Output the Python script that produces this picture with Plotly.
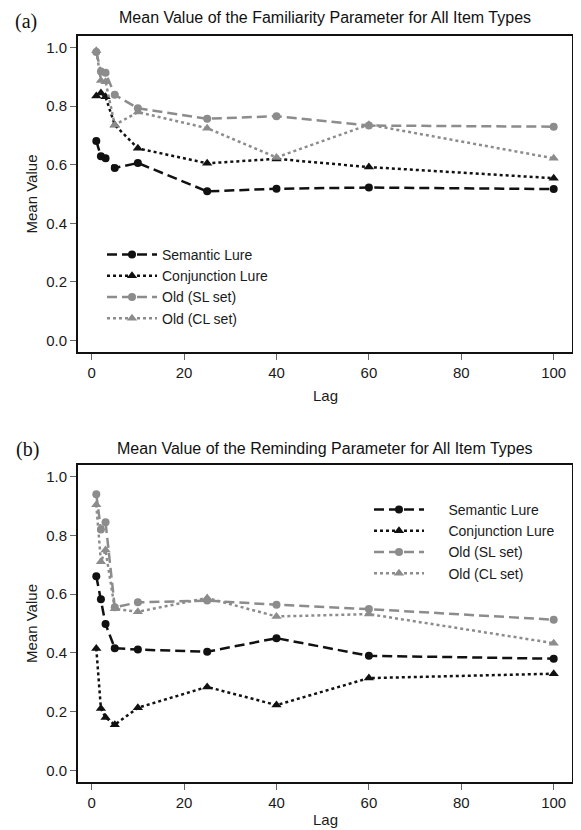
import plotly.graph_objects as go

lags = [1, 2, 3, 5, 10, 25, 40, 60, 100]

series_names = ["Semantic Lure", "Conjunction Lure", "Old (SL set)", "Old (CL set)"]

# Panel (a): familiarity parameter
fam_semantic = [0.681, 0.629, 0.622, 0.589, 0.606, 0.509, 0.518, 0.522, 0.517]
fam_conjunction = [0.835, 0.845, 0.832, 0.736, 0.656, 0.605, 0.620, 0.592, 0.554]
fam_old_sl = [0.985, 0.919, 0.914, 0.839, 0.793, 0.757, 0.766, 0.734, 0.730]
fam_old_cl = [0.990, 0.888, 0.884, 0.736, 0.780, 0.725, 0.625, 0.737, 0.622]

# Panel (b): reminding parameter
rem_semantic = [0.661, 0.583, 0.498, 0.416, 0.411, 0.404, 0.450, 0.390, 0.380]
rem_conjunction = [0.415, 0.210, 0.180, 0.155, 0.213, 0.284, 0.222, 0.314, 0.329]
rem_old_sl = [0.940, 0.820, 0.845, 0.555, 0.572, 0.578, 0.564, 0.549, 0.513]
rem_old_cl = [0.905, 0.710, 0.750, 0.550, 0.540, 0.587, 0.524, 0.532, 0.433]

x_ticks = [0, 20, 40, 60, 80, 100]
y_ticks = [0.0, 0.2, 0.4, 0.6, 0.8, 1.0]
y_tick_labels = ["0.0", "0.2", "0.4", "0.6", "0.8", "1.0"]

title_a = "Mean Value of the Familiarity Parameter for All Item Types"
title_b = "Mean Value of the Reminding Parameter for All Item Types"
x_title = "Lag"
y_title = "Mean Value"

BLACK = "#111111"
GRAY = "#8c8c8c"
DASH = "10px,5px"
DOT = "3px,3px"
styles = [
    dict(color=BLACK, dash=DASH, symbol="circle"),
    dict(color=BLACK, dash=DOT, symbol="triangle-up"),
    dict(color=GRAY, dash=DASH, symbol="circle"),
    dict(color=GRAY, dash=DOT, symbol="triangle-up"),
]

FONT = "Liberation Sans, Arial, Helvetica, sans-serif"
SERIF = "Liberation Serif, Times New Roman, serif"
TXT = "#1a1a1a"
NBSP = "\u00a0"

fig = go.Figure()

panels = [
    ([fam_semantic, fam_conjunction, fam_old_sl, fam_old_cl], "x", "y", "legend", ""),
    ([rem_semantic, rem_conjunction, rem_old_sl, rem_old_cl], "x2", "y2", "legend2", NBSP * 5),
]
for values, xa, ya, lg, pad in panels:
    for name, vals, st in zip(series_names, values, styles):
        fig.add_trace(go.Scatter(
            x=lags, y=vals, name=pad + name, mode="lines+markers",
            xaxis=xa, yaxis=ya, legend=lg,
            line=dict(color=st["color"], dash=st["dash"], width=2.5),
            marker=dict(symbol=st["symbol"], color=st["color"],
                        size=8 if st["symbol"] == "circle" else 9),
        ))

W, H = 581, 830
OFF = 8  # page body margin offset
xdom = [(78 - OFF) / W, (572 - OFF) / W]
ydom_a = [1 - (352 - OFF) / H, 1 - (36 - OFF) / H]
ydom_b = [1 - (782 - OFF) / H, 1 - (465 - OFF) / H]

axis_common = dict(
    showgrid=False, zeroline=False, showline=True, mirror=True,
    linecolor="#111111", linewidth=2, ticks="outside", ticklen=6,
    tickwidth=1, tickcolor="#666666",
    tickfont=dict(family=FONT, size=15, color=TXT),
)
xaxis_common = dict(axis_common, range=[-2.96, 103.96], tickvals=x_ticks)
yaxis_common = dict(axis_common, range=[-0.04, 1.04], tickvals=y_ticks, ticktext=y_tick_labels,
                    title=dict(text=y_title, font=dict(family=FONT, size=15, color=TXT), standoff=5))

legend_common = dict(
    font=dict(family=FONT, size=14, color=TXT),
    bgcolor="rgba(0,0,0,0)", borderwidth=0, itemwidth=50,
    tracegroupgap=0, xanchor="left", yanchor="top",
)


def ann(text, x, y, font, yanchor="middle"):
    return dict(text=text, x=(x - OFF) / W, y=1 - (y - OFF) / H, xref="paper", yref="paper",
                showarrow=False, font=font, xanchor="center", yanchor=yanchor,
                borderpad=0)


title_font = dict(family=FONT, size=16, color="#111111")
label_font = dict(family=FONT, size=15, color=TXT)
panel_font = dict(family=SERIF, size=20, color="#111111")

fig.update_layout(
    width=W, height=H,
    margin=dict(l=0, r=0, t=0, b=0),
    paper_bgcolor="white", plot_bgcolor="white",
    showlegend=True,
    xaxis=dict(xaxis_common, domain=xdom, anchor="y"),
    yaxis=dict(yaxis_common, domain=ydom_a, anchor="x"),
    xaxis2=dict(xaxis_common, domain=xdom, anchor="y2"),
    yaxis2=dict(yaxis_common, domain=ydom_b, anchor="x2"),
    legend=dict(legend_common, x=94 / W, y=1 - 231 / H),
    legend2=dict(legend_common, x=361 / W, y=1 - 486 / H),
    annotations=[
        ann(title_a, 325, 17, title_font),
        ann(title_b, 325, 448, title_font),
        ann("(a)", 26, 9, panel_font, yanchor="top"),
        ann("(b)", 27, 449, panel_font),
        ann(x_title, 325, 395, label_font),
        ann(x_title, 325, 819, label_font),
    ],
)

fig.write_html("out.html")
